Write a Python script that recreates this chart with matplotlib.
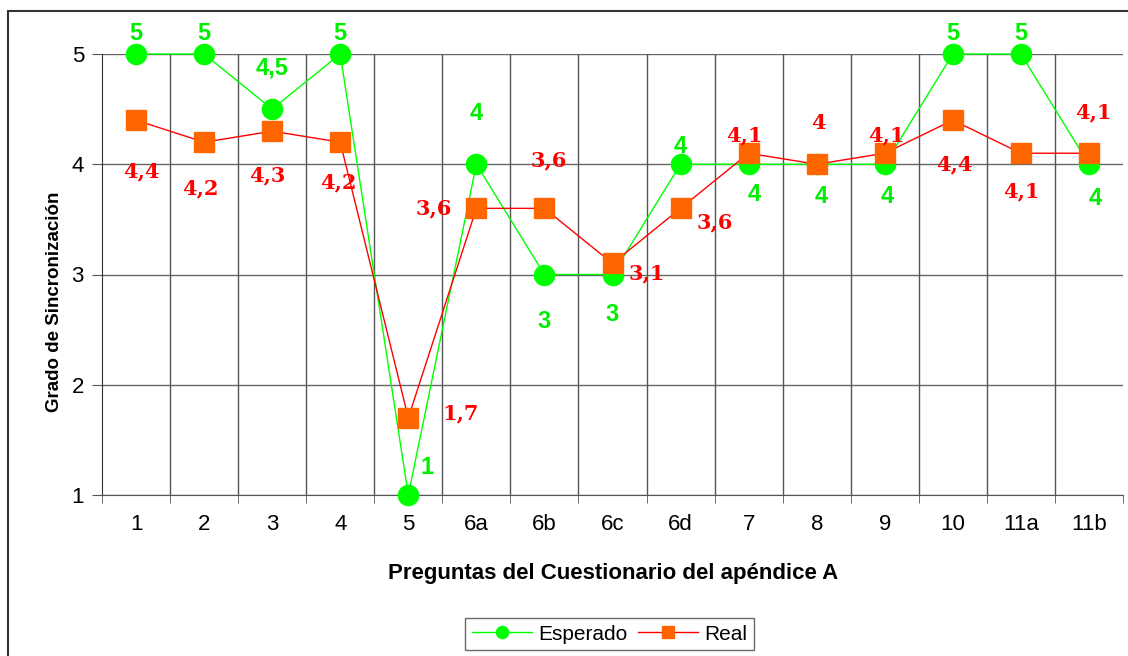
import numpy as np
import matplotlib
matplotlib.use("Agg")
import matplotlib.pyplot as plt
from matplotlib.patches import Rectangle

plt.rcParams['font.family'] = ['Liberation Sans', 'DejaVu Sans']

preguntas = ['1', '2', '3', '4', '5', '6a', '6b', '6c', '6d', '7', '8', '9', '10', '11a', '11b']
esperado = [5, 5, 4.5, 5, 1, 4, 3, 3, 4, 4, 4, 4, 5, 5, 4]
real = [4.4, 4.2, 4.3, 4.2, 1.7, 3.6, 3.6, 3.1, 3.6, 4.1, 4.0, 4.1, 4.4, 4.1, 4.1]

# label offsets in pixels (dx, dy)
off_esp = [(0, 20), (0, 20), (0, 41), (0, 20), (19, 28), (0, 51), (0, -47), (0, -40),
           (0, 18), (6, -30), (4, -32), (2, -32), (0, 20), (0, 20), (6, -34)]
off_real = [(5, -51), (-4, -46), (-5, -44), (-2, -40), (52, 4), (-43, 0), (4, 48), (34, -10),
            (34, -14), (-4, 18), (2, 41), (2, 18), (2, -44), (0, -38), (4, 41)]


def fmt(v):
    return ('%g' % v).replace('.', ',')


fig = plt.figure(figsize=(11.28, 6.56), dpi=100)
ax = fig.add_axes([102 / 1128, 1 - 495 / 656, (1123 - 102) / 1128, (495 - 54) / 656])

x = np.arange(len(preguntas))
ax.set_xlim(-0.5, len(preguntas) - 0.5)
ax.set_ylim(1, 5)

# grid: horizontal at each integer, vertical between categories
for yv in range(1, 6):
    ax.axhline(yv, color='#666666', lw=1, zorder=1)
for xv in np.arange(0.5, len(preguntas) - 0.5, 1):
    ax.axvline(xv, color='#555555', lw=1, zorder=1)

ax.plot(x, esperado, color='#00ff00', lw=1, marker='o', ms=14.5, mec='#00ff00',
        label='Esperado', zorder=3, clip_on=False)
ax.plot(x, real, color='#ff0000', lw=1, marker='s', ms=14.5, mfc='#ff6600', mec='#ff6600',
        label='Real', zorder=4, clip_on=False)

for i in range(len(preguntas)):
    ax.annotate(fmt(esperado[i]), (x[i], esperado[i]), xytext=off_esp[i],
                textcoords='offset pixels', ha='center', va='center',
                color='#00ee00', fontsize=17, fontweight='bold', zorder=5,
                annotation_clip=False)
    ax.annotate(fmt(real[i]), (x[i], real[i]), xytext=off_real[i],
                textcoords='offset pixels', ha='center', va='center',
                color='#ff0000', fontsize=15, fontweight='bold', family='DejaVu Serif',
                zorder=5, annotation_clip=False)

for s in ['top', 'right']:
    ax.spines[s].set_visible(False)
ax.spines['left'].set_color('#333333')
ax.spines['bottom'].set_color('#555555')

ax.set_xticks(x)
ax.set_xticklabels(preguntas, fontsize=16)
ax.tick_params(axis='x', which='major', length=0, pad=14)
ax.set_xticks(np.arange(-0.5, len(preguntas), 1), minor=True)
ax.tick_params(axis='x', which='minor', length=6, color='#555555')
ax.set_yticks([1, 2, 3, 4, 5])
ax.tick_params(axis='y', length=7, labelsize=16, pad=6, color='#555555')

ax.set_xlabel('Preguntas del Cuestionario del apéndice A', fontsize=16, fontweight='bold')
ax.xaxis.set_label_coords(0.501, (495 - 563) / 441)
ax.set_ylabel('Grado de Sincronización', fontsize=13.5, fontweight='bold')
ax.yaxis.set_label_coords((63 - 102) / 1021, (495 - 302) / 441)

leg = fig.legend(loc='center', bbox_to_anchor=(609.5 / 1128, 1 - 634 / 656), ncol=2,
                 fontsize=15, frameon=True, fancybox=False, edgecolor='#444444',
                 handlelength=2.9, markerscale=0.6, columnspacing=0.5,
                 handletextpad=0.3, borderpad=0.3)
leg.get_frame().set_linewidth(1)

fig.add_artist(Rectangle((8 / 1128, -0.1), 1.2, 0.1 + 1 - 11 / 656, transform=fig.transFigure,
                         fill=False, edgecolor='#333333', lw=1.5))

fig.savefig('out.png', dpi=100)
